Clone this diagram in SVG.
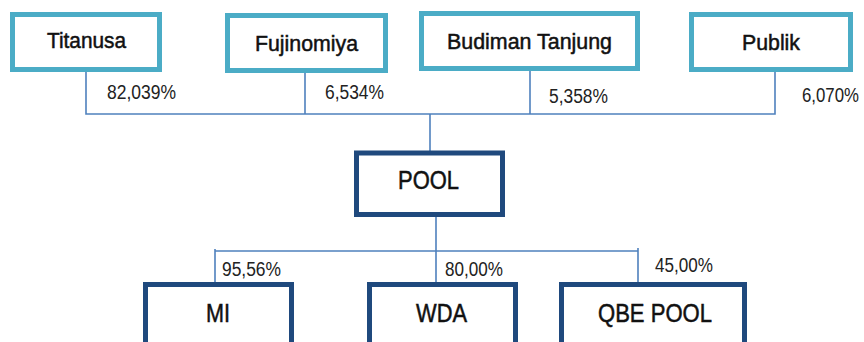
<svg xmlns="http://www.w3.org/2000/svg" width="864" height="342" viewBox="0 0 864 342">
<style>
.top{fill:#fff;stroke:#4BACC6;stroke-width:5}
.bot{fill:#fff;stroke:#1F497D;stroke-width:5}
.lbl{font-family:"Liberation Sans Narrow","Liberation Sans",Arial,sans-serif;font-size:22px;fill:#111;stroke:#111;stroke-width:0.5}
.big{font-size:25px}
.pct{font-family:"Liberation Sans Narrow","Liberation Sans",Arial,sans-serif;font-size:20px;fill:#222}
.ln{fill:none;stroke:#4F81BD;stroke-width:1.6}
</style>
<rect width="864" height="342" fill="#fff"/>
<g id="connectors">
<path class="ln" d="M86 72V114H775V72M305 73V114M530 71V114M430 114V152"/>
<path class="ln" d="M215 249V251H638M638 248V282M215 249V283M436 217V284"/>
</g>
<g id="Titanusa"><rect class="top" x="12.5" y="14.5" width="147" height="55"/><text class="lbl" x="47" y="48" textLength="79" lengthAdjust="spacingAndGlyphs">Titanusa</text></g>
<g id="Fujinomiya"><rect class="top" x="227.5" y="15.5" width="158" height="55"/><text class="lbl" x="255" y="51" textLength="103" lengthAdjust="spacingAndGlyphs">Fujinomiya</text></g>
<g id="BudimanTanjung"><rect class="top" x="421.5" y="13.5" width="216" height="55"/><text class="lbl" x="447" y="49" textLength="165" lengthAdjust="spacingAndGlyphs">Budiman Tanjung</text></g>
<g id="Publik"><rect class="top" x="691.5" y="14.5" width="159" height="55"/><text class="lbl" x="742" y="50" textLength="58" lengthAdjust="spacingAndGlyphs">Publik</text></g>
<g id="POOL"><rect class="bot" x="356.5" y="153" width="146" height="61.5"/><text class="lbl big" x="398" y="189" textLength="61" lengthAdjust="spacingAndGlyphs">POOL</text></g>
<g id="MI"><rect class="bot" x="145.5" y="284.5" width="146" height="70"/><text class="lbl big" x="206" y="322" textLength="24" lengthAdjust="spacingAndGlyphs">MI</text></g>
<g id="WDA"><rect class="bot" x="369.5" y="284.5" width="146" height="70"/><text class="lbl big" x="416" y="322" textLength="51" lengthAdjust="spacingAndGlyphs">WDA</text></g>
<g id="QBEPOOL"><rect class="bot" x="561.5" y="284.5" width="183" height="70"/><text class="lbl big" x="598" y="322" textLength="114" lengthAdjust="spacingAndGlyphs">QBE POOL</text></g>
<g id="labels">
<text class="pct" x="107" y="99" textLength="69" lengthAdjust="spacingAndGlyphs">82,039%</text>
<text class="pct" x="325" y="99" textLength="59" lengthAdjust="spacingAndGlyphs">6,534%</text>
<text class="pct" x="549" y="103" textLength="59" lengthAdjust="spacingAndGlyphs">5,358%</text>
<text class="pct" x="802" y="102" textLength="57" lengthAdjust="spacingAndGlyphs">6,070%</text>
<text class="pct" x="222" y="276" textLength="59" lengthAdjust="spacingAndGlyphs">95,56%</text>
<text class="pct" x="445" y="276" textLength="58" lengthAdjust="spacingAndGlyphs">80,00%</text>
<text class="pct" x="655" y="272" textLength="58" lengthAdjust="spacingAndGlyphs">45,00%</text>
</g>
</svg>
